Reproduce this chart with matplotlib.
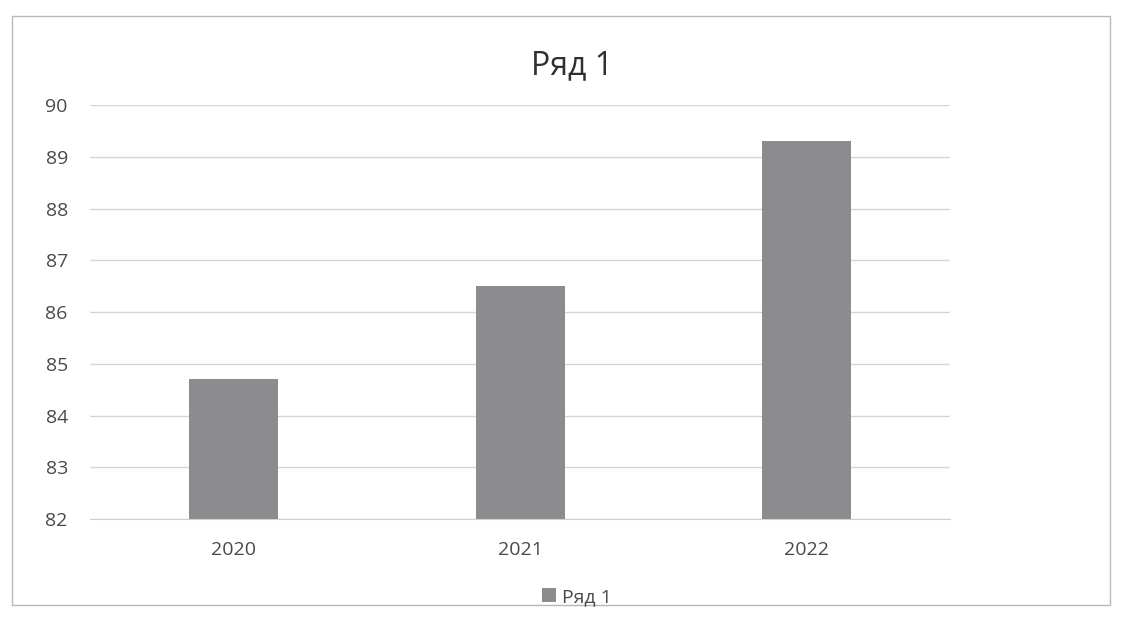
import matplotlib
matplotlib.use("Agg")
import matplotlib.pyplot as plt
from matplotlib.patches import Rectangle

plt.rcParams['font.family'] = ['Open Sans', 'DejaVu Sans']

years = ["2020", "2021", "2022"]
values = [84.7, 86.5, 89.3]
series_name = "Ряд 1"
y_ticks = [82, 83, 84, 85, 86, 87, 88, 89, 90]

bar_color = "#8c8c8e"
text_color = "#4a4a4a"

fig = plt.figure(figsize=(11.29, 6.33), dpi=100)
ax = fig.add_axes([0.0797, 0.18, 0.762, 0.654])

ax.bar(years, values, width=0.31, color=bar_color, label=series_name, zorder=3)
ax.set_ylim(82, 90)
ax.set_xlim(-0.5, 2.5)
ax.set_yticks(y_ticks)
ax.grid(axis="y", color="#d6d6d6", linewidth=1, zorder=0)
for s in ax.spines.values():
    s.set_visible(False)
ax.spines["bottom"].set_visible(True)
ax.spines["bottom"].set_color("#d0d0d0")
ax.tick_params(axis="both", length=0, labelsize=14, labelcolor=text_color)
ax.tick_params(axis="x", pad=16)
ax.tick_params(axis="y", pad=16)

fig.text(0.507, 0.896, series_name, ha="center", va="center", fontsize=23, color="#303030")

fig.legend(loc="center", bbox_to_anchor=(0.511, 0.057), frameon=False, fontsize=14,
           handlelength=0.75, handleheight=0.75, handletextpad=0.3, labelcolor=text_color)

# outer chart border
fig.patches.append(Rectangle((0.011, 0.045), 0.972, 0.93, transform=fig.transFigure,
                             fill=False, edgecolor="#b8b8b8", linewidth=1))

fig.savefig("out.png", dpi=100)
